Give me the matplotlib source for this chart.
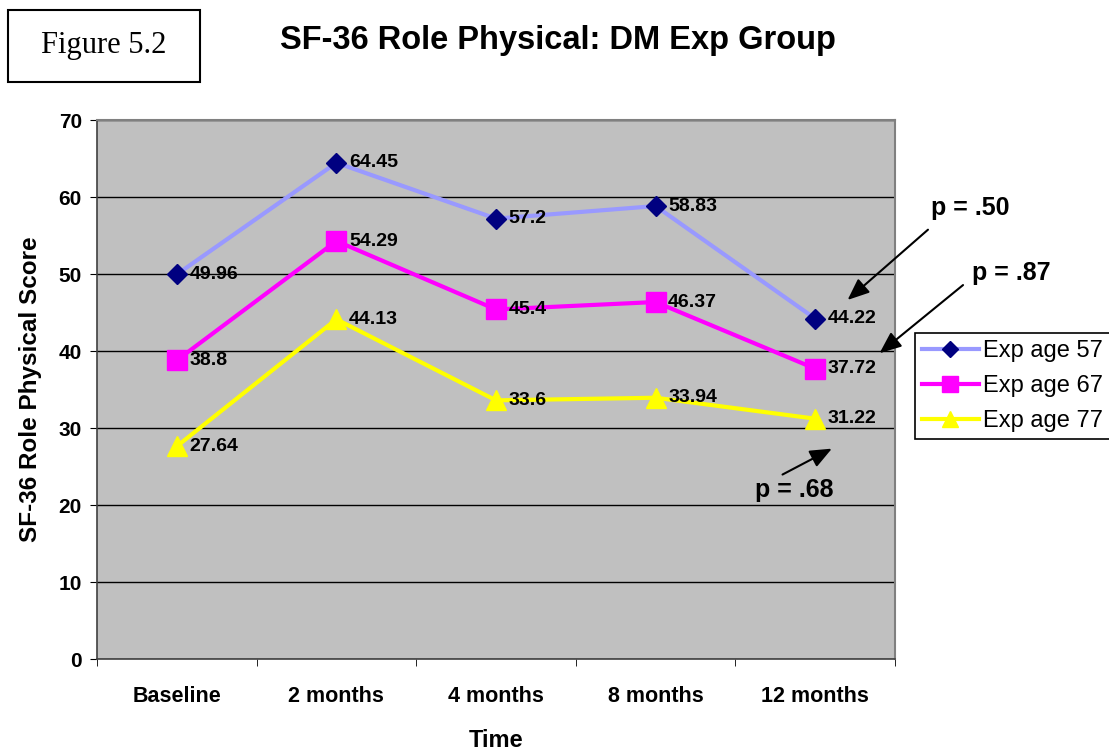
import matplotlib
matplotlib.use('Agg')
import matplotlib.pyplot as plt
from matplotlib.patches import Rectangle

plt.rcParams['font.family'] = ['Liberation Sans', 'DejaVu Sans']

# data
times = ['Baseline', '2 months', '4 months', '8 months', '12 months']
age57 = [49.96, 64.45, 57.2, 58.83, 44.22]
age67 = [38.8, 54.29, 45.4, 46.37, 37.72]
age77 = [27.64, 44.13, 33.6, 33.94, 31.22]
labels = ['Exp age 57', 'Exp age 67', 'Exp age 77']

fig = plt.figure(figsize=(11.09, 7.55), dpi=100)
ax = fig.add_axes([0.0875, 0.127, 0.7195, 0.714])
ax.set_facecolor('#C0C0C0')

x = list(range(len(times)))
series = [
    (age57, '#9999FF', 'D', '#000080', 10),
    (age67, '#FF00FF', 's', '#FF00FF', 14),
    (age77, '#FFFF00', '^', '#FFFF00', 14),
]
for (vals, lc, mk, mc, ms), lab in zip(series, labels):
    ax.plot(x, vals, color=lc, lw=3, marker=mk, markersize=ms,
            markerfacecolor=mc, markeredgecolor=mc, label=lab, zorder=3)
    for xi, v in zip(x, vals):
        ax.annotate(f'{v:g}', (xi, v), xytext=(9, 0), textcoords='offset points',
                    ha='left', va='center', fontsize=14, fontweight='bold', zorder=4)

ax.set_xlim(-0.5, 4.5)
ax.set_ylim(0, 70)
ax.set_yticks(range(0, 71, 10))
ax.set_xticks(x)
ax.set_xticklabels(times, fontsize=15.5, fontweight='bold')
ax.set_xticks([i - 0.5 for i in range(6)], minor=True)
ax.tick_params(axis='x', which='major', length=0, pad=19)
ax.tick_params(axis='x', which='minor', length=5, direction='out')
ax.tick_params(axis='y', length=5, direction='out', labelsize=15, pad=6)
for t in ax.get_yticklabels():
    t.set_fontweight('bold')
ax.yaxis.grid(True, color='black', lw=1)
ax.set_axisbelow(True)
for s in ['top', 'right']:
    ax.spines[s].set_color('#808080')
    ax.spines[s].set_linewidth(1.5)
for s in ['left', 'bottom']:
    ax.spines[s].set_color('#404040')
    ax.spines[s].set_linewidth(1.2)

ax.set_ylabel('SF-36 Role Physical Score', fontsize=17.5, fontweight='bold', labelpad=12)
ax.set_xlabel('Time', fontsize=17, fontweight='bold', labelpad=16)

fig.text(0.503, 0.947, 'SF-36 Role Physical: DM Exp Group', ha='center', va='center',
         fontsize=23.5, fontweight='bold')

# "Figure 5.2" box
fig.patches.append(Rectangle((8 / 1109, 1 - 82 / 755), 192 / 1109, 72 / 755,
                             transform=fig.transFigure, fill=False, ec='black', lw=1.5))
fig.text(104 / 1109, 1 - 46 / 755, 'Figure 5.2', ha='center', va='center',
         fontsize=22, family='Liberation Serif')

# p-value annotations
arrow = dict(arrowstyle='-|>,head_length=0.6,head_width=0.25', color='black', lw=1.5,
             mutation_scale=22)
ax.annotate('', xy=(4.19, 46.4), xytext=(4.72, 56.0), arrowprops=arrow, annotation_clip=False)
ax.text(4.97, 58.6, 'p = .50', ha='center', va='center', fontsize=18, fontweight='bold', clip_on=False)
ax.annotate('', xy=(4.39, 39.5), xytext=(4.94, 48.8), arrowprops=arrow, annotation_clip=False)
ax.text(5.23, 50.1, 'p = .87', ha='center', va='center', fontsize=18, fontweight='bold', clip_on=False)
ax.annotate('', xy=(4.12, 27.5), xytext=(3.78, 23.8), arrowprops=arrow, annotation_clip=False)
ax.text(3.87, 21.9, 'p = .68', ha='center', va='center', fontsize=18, fontweight='bold', clip_on=False)

leg = ax.legend(loc='center left', bbox_to_anchor=(1.025, 0.506), fontsize=17,
                frameon=True, fancybox=False, edgecolor='black', framealpha=1,
                handlelength=2.4, borderpad=0.3, labelspacing=0.55, handletextpad=0.2,
                borderaxespad=0, markerscale=0.8)
leg.get_frame().set_linewidth(1.2)

fig.savefig('out.png', dpi=100)
